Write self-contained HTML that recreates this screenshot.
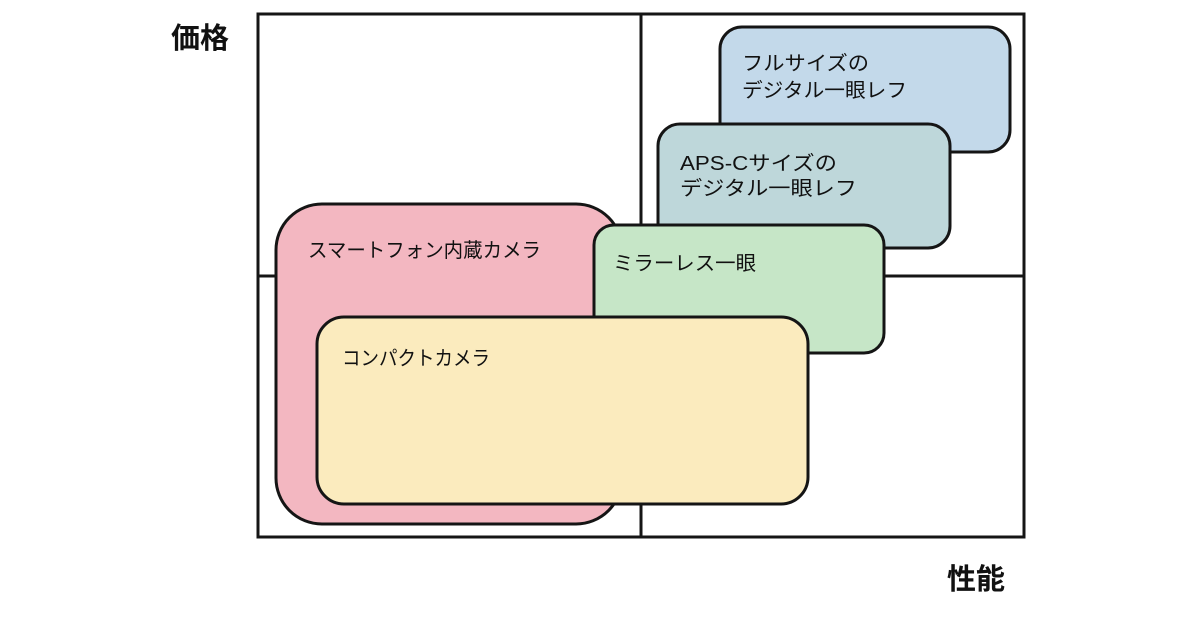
<!DOCTYPE html>
<html>
<head>
<meta charset="utf-8">
<style>
  html,body{margin:0;padding:0;background:#fff;}
  body{width:1200px;height:630px;overflow:hidden;}
  svg{display:block;}
  .t{font-family:"Liberation Sans","Noto Sans CJK JP",sans-serif;font-size:20px;fill:#111;}
  .ax{font-family:"Liberation Sans","Noto Sans CJK JP",sans-serif;font-size:29px;font-weight:bold;fill:#111;}
</style>
</head>
<body>
<svg width="1200" height="630" viewBox="0 0 1200 630" xmlns="http://www.w3.org/2000/svg">
  <rect x="0" y="0" width="1200" height="630" fill="#fff"/>
  <!-- frame -->
  <g stroke="#151515" stroke-width="3" fill="none">
    <rect x="258" y="14" width="766" height="523"/>
    <line x1="641" y1="14" x2="641" y2="537"/>
    <line x1="258" y1="276" x2="1024" y2="276"/>
  </g>
  <!-- axis labels -->
  <text class="ax" x="171" y="48">価格</text>
  <text class="ax" x="947" y="589">性能</text>

  <!-- full-size DSLR -->
  <rect x="720" y="27" width="290" height="125" rx="22" ry="22" fill="#c3d9ea" stroke="#151515" stroke-width="3"/>
  <text class="t" x="742" y="70" textLength="127" lengthAdjust="spacingAndGlyphs">フルサイズの</text>
  <text class="t" x="742" y="97" textLength="165" lengthAdjust="spacingAndGlyphs">デジタル一眼レフ</text>

  <!-- APS-C DSLR -->
  <rect x="658" y="124" width="292" height="124" rx="22" ry="22" fill="#bed7da" stroke="#151515" stroke-width="3"/>
  <text class="t" x="680" y="170" textLength="157" lengthAdjust="spacingAndGlyphs">APS-Cサイズの</text>
  <text class="t" x="680" y="195" textLength="177" lengthAdjust="spacingAndGlyphs">デジタル一眼レフ</text>

  <!-- smartphone -->
  <rect x="276" y="204" width="346" height="320" rx="46" ry="46" fill="#f3b7c1" stroke="#151515" stroke-width="3"/>
  <text class="t" x="308" y="257" textLength="233" lengthAdjust="spacingAndGlyphs">スマートフォン内蔵カメラ</text>

  <!-- mirrorless -->
  <rect x="594" y="225" width="290" height="128" rx="20" ry="20" fill="#c6e6c7" stroke="#151515" stroke-width="3"/>
  <text class="t" x="613" y="270" textLength="143" lengthAdjust="spacingAndGlyphs">ミラーレス一眼</text>

  <!-- compact -->
  <rect x="317" y="317" width="491" height="187" rx="27" ry="27" fill="#fbebbe" stroke="#151515" stroke-width="3"/>
  <text class="t" x="342" y="365" textLength="148" lengthAdjust="spacingAndGlyphs">コンパクトカメラ</text>
</svg>
</body>
</html>
